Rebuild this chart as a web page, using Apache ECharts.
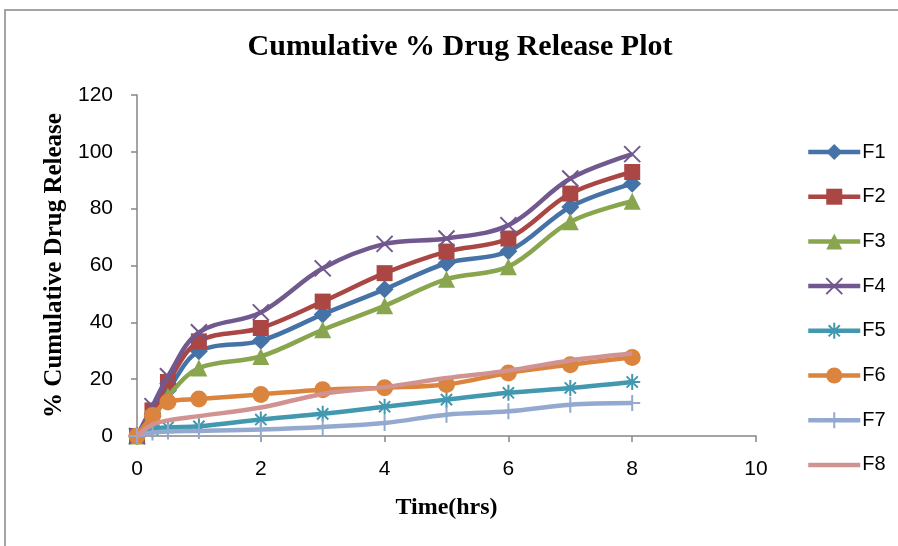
<!DOCTYPE html>
<html><head><meta charset="utf-8">
<script src="https://cdn.jsdelivr.net/npm/echarts@6/dist/echarts.min.js"></script>
<style>html,body{margin:0;padding:0;background:#fff}#c{width:898px;height:546px}</style>
</head><body><div id="c"></div>
<script>
const times = [0, 0.25, 0.5, 1, 2, 3, 4, 5, 6, 7, 8];
const seriesNames = ['F1','F2','F3','F4','F5','F6','F7','F8'];
const F1 = [0, 7, 16, 29.8, 33.5, 42.8, 51.6, 60.8, 65.0, 80.6, 88.8];
const F2 = [0, 9, 19, 33.3, 38.0, 47.3, 57.3, 64.9, 69.5, 85.3, 92.9];
const F3 = [0, 6, 14, 23.9, 28.0, 37.4, 45.8, 55.2, 59.6, 75.4, 82.6];
const F4 = [0, 10.5, 21, 36.5, 43.5, 59.0, 67.6, 69.5, 74.2, 90.6, 99.2];
const F5 = [0, 2.3, 3.0, 3.4, 5.8, 7.8, 10.3, 12.8, 15.2, 16.9, 19.0];
const F6 = [0, 7.2, 12.0, 13.0, 14.6, 16.3, 17.0, 18.1, 22.2, 25.1, 27.6];
const F7 = [0, 1.2, 1.6, 1.8, 2.3, 3.2, 4.6, 7.5, 8.7, 11.0, 11.6];
const F8 = [0, 4.0, 5.5, 7.0, 10.0, 14.8, 17.2, 20.4, 23.0, 26.6, 29.0];
const xTicks = {min: 0, max: 10, interval: 2};
const yTicks = {min: 0, max: 120, interval: 20};

const values = [F1, F2, F3, F4, F5, F6, F7, F8];
const colors = ['#4572A7','#AA4643','#89A54E','#71588F','#4198AF','#DB843D','#93A9CF','#D19392'];
const symbols = ['diamond','rect','triangle',
  'path://M0,0L10,10M10,0L0,10',
  'path://M5,0L5,10M0,5L10,5M1.5,1.5L8.5,8.5M8.5,1.5L1.5,8.5',
  'circle',
  'path://M5,0L5,10M0,5L10,5',
  'none'];
const sizes = [18, 16, 17, 16, 16, 17, 16, 0];
const stroked = [false,false,false,true,true,false,true,false];
// legend icon for the marker-less series: a plain thick line spanning the icon box
const lineOnlyIcon = 'path://M0,0L0.01,0L0.01,0.01Z M0,7.75L52,7.75L52,12.25L0,12.25Z M0,20L0.01,20L0.01,19.99Z';

const chart = echarts.init(document.getElementById('c'), null, {renderer:'canvas'});
const series = seriesNames.map((n,i)=>({
  name: n, type: 'line', smooth: 0.35,
  data: times.map((t,k)=>[t, values[i][k]]),
  symbol: symbols[i], symbolSize: sizes[i], showSymbol: symbols[i] !== 'none',
  lineStyle: {color: colors[i], width: 4.5},
  itemStyle: stroked[i] ? {color: 'rgba(0,0,0,0)', borderColor: colors[i], borderWidth: 2}
                        : {color: colors[i], borderWidth: 0},
  emphasis: {disabled: true},
  z: 2 + i
}));

chart.setOption({
  animation: false,
  backgroundColor: '#fff',
  title: {text: 'Cumulative % Drug Release Plot', left: 455, top: 27, textAlign: 'center',
    textStyle: {fontFamily: 'Liberation Serif', fontWeight: 'bold', fontSize: 30, color: '#000'}},
  graphic: [{type: 'rect', shape: {x: 5, y: 10, width: 1000, height: 1000},
    style: {fill: 'none', stroke: '#868686', lineWidth: 1.5}, silent: true, z: -1}],
  legend: {orient: 'vertical', left: 806, top: 142, padding: 0, itemWidth: 52, itemHeight: 20, itemGap: 24.7,
    lineStyle: {width: 4.5},
    textStyle: {fontFamily: 'Liberation Sans', fontSize: 20, color: '#000', lineHeight: 20, padding: [0,0,0,-3]},
    data: seriesNames.map(n => n === 'F8' ? {name: n, icon: lineOnlyIcon} : {name: n})},
  grid: {left: 137, right: 142, top: 95, bottom: 110, containLabel: false},
  xAxis: {type: 'value', min: xTicks.min, max: xTicks.max, interval: xTicks.interval,
    name: 'Time(hrs)', nameLocation: 'middle', nameGap: 60,
    nameTextStyle: {fontFamily: 'Liberation Serif', fontWeight: 'bold', fontSize: 24, color: '#000'},
    axisLine: {lineStyle: {color: '#868686', width: 1.5}},
    axisTick: {show: true, inside: false, length: 6, lineStyle: {color: '#868686', width: 1.5}},
    axisLabel: {margin: 23, fontFamily: 'Liberation Sans', fontSize: 21, color: '#000'},
    splitLine: {show: false}},
  yAxis: {type: 'value', min: yTicks.min, max: yTicks.max, interval: yTicks.interval,
    name: '% Cumulative Drug Release', nameLocation: 'middle', nameGap: 63, nameRotate: 90,
    nameTextStyle: {fontFamily: 'Liberation Serif', fontWeight: 'bold', fontSize: 25, color: '#000'},
    axisLine: {show: true, lineStyle: {color: '#868686', width: 1.5}},
    axisTick: {show: true, inside: false, length: 6, lineStyle: {color: '#868686', width: 1.5}},
    axisLabel: {margin: 24, fontFamily: 'Liberation Sans', fontSize: 21, color: '#000'},
    splitLine: {show: false}},
  series: series
});
</script></body></html>
